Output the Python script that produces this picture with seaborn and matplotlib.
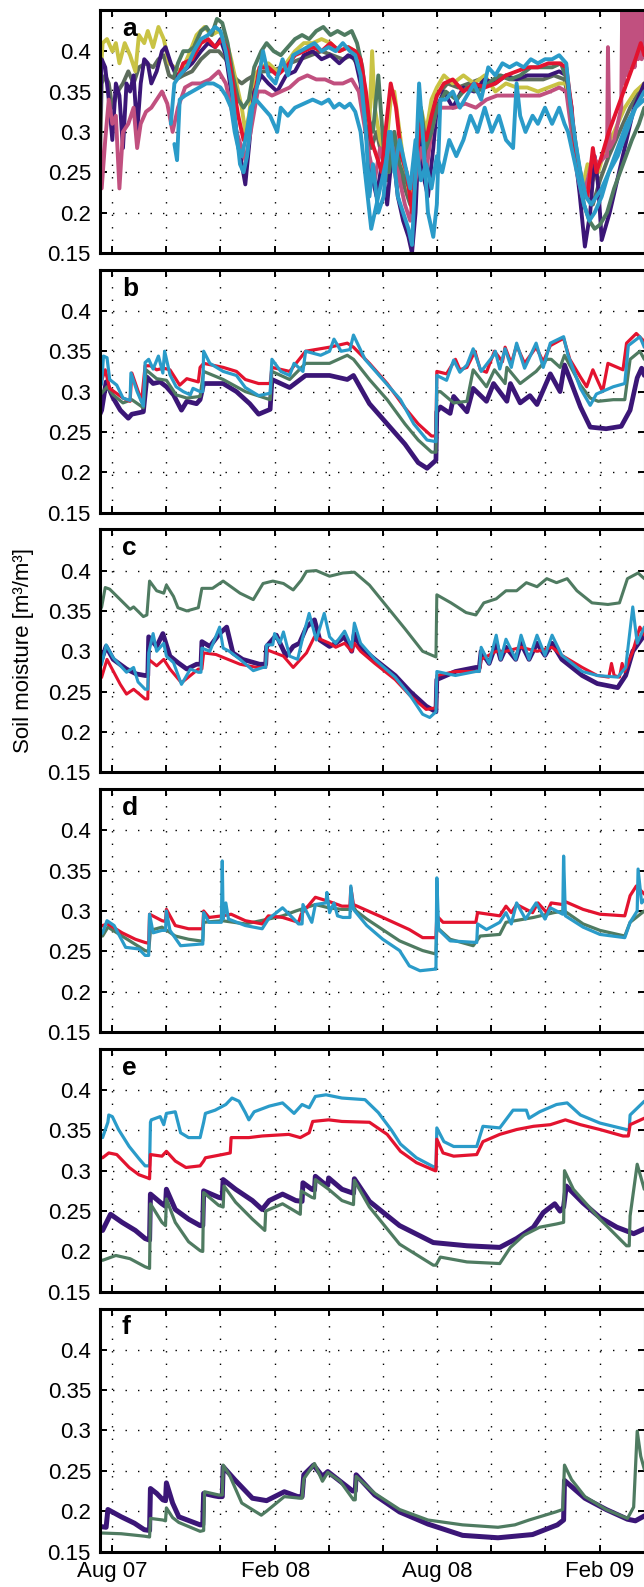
import numpy as np
import pandas as pd
import matplotlib
matplotlib.use("Agg")
import matplotlib.pyplot as plt
import matplotlib.dates as mdates
from matplotlib.ticker import FuncFormatter, FixedLocator
import seaborn as sns

# ---------------- data (day offsets from 1 Aug 2007, soil moisture m3/m3) ----------------
# panel a
a_grey_d = [-14,-12,-8,-4,0,6,12,18,24,30,38,46,52,58,64,72,80,90,100,110,120,128,134,140,146,152,160,170,180,190,200,212,224,236,248,260,270,278,286,292,298,304,310,316,322,330,336,342,348,354,360,366,378,390,402,414,426,438,450,462,474,486,498,510,518,526,534,542,550,560,572,584,594,600]
a_grey_v = [0.26,0.36,0.37,0.36,0.33,0.35,0.36,0.375,0.36,0.38,0.385,0.38,0.39,0.395,0.37,0.365,0.37,0.375,0.39,0.40,0.40,0.39,0.375,0.365,0.36,0.365,0.37,0.375,0.375,0.38,0.385,0.39,0.395,0.40,0.395,0.39,0.395,0.38,0.33,0.28,0.30,0.27,0.24,0.29,0.26,0.23,0.21,0.23,0.31,0.27,0.32,0.345,0.36,0.355,0.36,0.365,0.36,0.37,0.365,0.365,0.365,0.365,0.37,0.365,0.32,0.26,0.22,0.21,0.24,0.27,0.30,0.33,0.35,0.36]
a_yellow_d = [-14,-11,-6,0,4,8,14,20,26,30,36,40,46,52,58,64,70,78,86,95,104,112,120,128,134,140,146,150,154,160,168,176,186,196,206,216,226,236,246,256,266,274,280,286,290,293,296,302,308,314,318,324,330,336,342,348,354,360,366,374,384,396,408,420,432,444,456,468,480,492,504,512,518,524,530,536,542,548,556,566,578,590,600]
a_yellow_v = [0.35,0.41,0.415,0.40,0.41,0.385,0.41,0.395,0.375,0.42,0.41,0.425,0.405,0.43,0.415,0.385,0.38,0.375,0.395,0.42,0.43,0.42,0.425,0.415,0.39,0.36,0.33,0.30,0.32,0.37,0.38,0.385,0.375,0.385,0.40,0.41,0.41,0.415,0.41,0.40,0.405,0.40,0.38,0.33,0.31,0.40,0.33,0.29,0.27,0.34,0.35,0.30,0.25,0.22,0.25,0.33,0.30,0.34,0.355,0.37,0.36,0.37,0.36,0.37,0.35,0.36,0.355,0.355,0.35,0.355,0.36,0.36,0.32,0.26,0.23,0.26,0.24,0.25,0.28,0.30,0.33,0.35,0.36]
a_purple_d = [-14,-12,-8,-4,0,4,8,12,16,20,24,28,32,36,40,44,50,56,60,66,72,80,90,100,108,116,122,128,134,140,146,150,154,160,168,176,186,196,206,216,226,236,246,256,266,274,280,286,292,298,304,310,316,322,328,334,338,342,346,350,356,362,366,374,384,396,408,420,432,444,456,468,480,492,504,512,518,520,527,533,539,544,548,552,561,573,588,600]
a_purple_v = [0.31,0.39,0.38,0.34,0.29,0.36,0.345,0.28,0.36,0.35,0.37,0.30,0.36,0.39,0.385,0.36,0.375,0.40,0.405,0.385,0.37,0.375,0.385,0.40,0.41,0.405,0.415,0.395,0.35,0.30,0.26,0.235,0.28,0.35,0.37,0.36,0.35,0.37,0.375,0.395,0.40,0.39,0.395,0.385,0.395,0.39,0.36,0.30,0.25,0.22,0.26,0.21,0.28,0.22,0.19,0.17,0.15,0.20,0.30,0.25,0.22,0.28,0.33,0.35,0.33,0.355,0.35,0.365,0.36,0.37,0.365,0.37,0.37,0.37,0.375,0.37,0.33,0.29,0.224,0.158,0.20,0.27,0.233,0.166,0.20,0.257,0.328,0.36]
a_pink_d = [-14,-12,-8,-4,0,4,8,12,18,24,28,32,38,44,50,56,62,68,74,82,90,100,110,120,128,134,140,146,150,156,164,172,180,190,200,210,220,230,240,250,260,270,278,284,290,296,302,310,318,324,330,336,342,348,354,360,366,376,386,398,410,422,434,446,458,470,482,494,504,512,518,524,530,536,542,548,556,558,559,561,566,574,575,577,579,581,583,585,587,589,591,593,595,597,599,600]
a_pink_v = [0.30,0.23,0.29,0.34,0.31,0.32,0.23,0.30,0.31,0.33,0.28,0.31,0.325,0.33,0.34,0.35,0.335,0.30,0.33,0.355,0.36,0.36,0.365,0.375,0.36,0.33,0.30,0.28,0.265,0.30,0.35,0.35,0.345,0.35,0.355,0.365,0.37,0.365,0.365,0.36,0.36,0.365,0.35,0.31,0.27,0.24,0.28,0.25,0.30,0.24,0.21,0.19,0.24,0.28,0.25,0.30,0.33,0.33,0.33,0.335,0.33,0.34,0.345,0.345,0.345,0.345,0.345,0.35,0.355,0.35,0.30,0.25,0.22,0.24,0.27,0.26,0.27,0.27,0.405,0.28,0.29,0.33,0.45,0.36,0.45,0.37,0.45,0.38,0.45,0.38,0.45,0.39,0.45,0.39,0.45,0.42]
a_green_d = [70,74,80,86,92,100,106,112,118,124,130,136,142,148,154,160,168,174,182,190,198,206,214,222,230,238,246,254,262,270,276,282,288,294,300,306,312,318,324,330,336,342,348,354,360,366,376,388,400,412,424,436,448,460,472,484,496,506,514,520,526,532,538,544,550,558,566,576,586,594,600]
a_green_v = [0.37,0.385,0.40,0.40,0.405,0.425,0.43,0.42,0.44,0.435,0.41,0.37,0.34,0.33,0.34,0.38,0.40,0.41,0.40,0.395,0.405,0.415,0.42,0.415,0.425,0.43,0.42,0.425,0.42,0.425,0.41,0.38,0.32,0.30,0.37,0.28,0.25,0.30,0.26,0.24,0.23,0.26,0.33,0.28,0.30,0.33,0.35,0.34,0.355,0.35,0.36,0.37,0.365,0.37,0.38,0.38,0.38,0.385,0.36,0.30,0.25,0.21,0.19,0.18,0.185,0.20,0.23,0.26,0.29,0.31,0.33]
a_red_d = [75,80,90,100,108,116,124,130,136,142,148,152,158,166,176,186,196,206,216,226,236,246,256,266,274,280,286,292,298,304,308,314,320,326,332,338,342,348,354,360,366,374,384,396,408,420,432,444,456,468,480,492,504,512,518,524,530,536,542,546,552,560,570,580,590,596,600]
a_red_v = [0.37,0.385,0.39,0.41,0.415,0.405,0.415,0.40,0.36,0.32,0.29,0.30,0.33,0.38,0.38,0.37,0.38,0.395,0.40,0.405,0.40,0.41,0.40,0.405,0.40,0.39,0.35,0.29,0.27,0.25,0.30,0.36,0.33,0.27,0.25,0.20,0.26,0.31,0.29,0.32,0.345,0.36,0.365,0.35,0.36,0.355,0.36,0.37,0.375,0.38,0.38,0.385,0.385,0.38,0.33,0.26,0.23,0.22,0.28,0.25,0.27,0.30,0.33,0.36,0.39,0.41,0.395]
a_blue1_d = [66,70,76,84,92,100,108,116,122,128,134,140,144,148,152,158,164,170,176,184,192,198,204,212,220,228,236,244,252,260,268,274,280,286,290,294,300,306,312,316,322,328,334,338,342,346,350,356,362,366,370,376,384,392,400,408,416,424,432,440,448,456,464,472,480,488,496,504,512,516,522,528,534,540,546,552,560,570,580,590,600]
a_blue1_v = [0.31,0.36,0.37,0.38,0.40,0.415,0.42,0.43,0.425,0.40,0.36,0.30,0.26,0.25,0.27,0.33,0.36,0.40,0.37,0.36,0.39,0.37,0.395,0.40,0.405,0.41,0.40,0.405,0.40,0.41,0.40,0.395,0.37,0.30,0.22,0.26,0.20,0.22,0.30,0.28,0.22,0.20,0.18,0.16,0.25,0.36,0.30,0.20,0.17,0.21,0.34,0.34,0.35,0.33,0.345,0.36,0.34,0.38,0.37,0.385,0.38,0.385,0.38,0.39,0.385,0.39,0.39,0.395,0.385,0.34,0.29,0.25,0.22,0.21,0.22,0.23,0.25,0.27,0.30,0.33,0.35]
a_blue2_d = [70,73,76,82,90,98,106,114,122,128,134,138,142,146,150,156,162,170,178,186,190,198,206,216,226,236,244,250,256,262,268,274,280,286,292,296,302,308,314,318,324,330,336,342,348,354,360,366,372,380,388,396,404,412,420,428,436,444,452,456,460,466,474,480,488,496,504,510,514,520,526,532,538,544,552,560,570,580,590,600]
a_blue2_v = [0.285,0.265,0.34,0.345,0.35,0.355,0.36,0.36,0.355,0.345,0.33,0.30,0.28,0.27,0.29,0.33,0.34,0.33,0.32,0.30,0.33,0.32,0.33,0.335,0.34,0.335,0.34,0.33,0.335,0.33,0.335,0.325,0.30,0.24,0.18,0.20,0.23,0.26,0.30,0.25,0.29,0.26,0.23,0.29,0.24,0.26,0.23,0.27,0.25,0.29,0.27,0.29,0.32,0.30,0.33,0.30,0.32,0.29,0.28,0.36,0.32,0.30,0.32,0.31,0.33,0.31,0.33,0.31,0.30,0.27,0.24,0.21,0.19,0.20,0.22,0.25,0.28,0.31,0.33,0.34]

# panel b
b_purple_d = [-14,-12,-7,1,9,18,22,35,39,46,54,61,69,78,84,95,99,103,125,140,155,165,178,180,200,218,245,265,272,290,310,330,345,355,365,366,370,381,385,400,407,422,430,445,449,460,471,479,494,505,510,528,539,557,574,584,592,597,600]
b_purple_v = [0.272,0.277,0.312,0.292,0.277,0.267,0.272,0.275,0.318,0.31,0.312,0.306,0.296,0.277,0.288,0.285,0.29,0.31,0.31,0.30,0.285,0.272,0.278,0.315,0.305,0.32,0.32,0.315,0.32,0.285,0.26,0.235,0.212,0.205,0.215,0.275,0.281,0.273,0.294,0.275,0.304,0.288,0.31,0.288,0.31,0.286,0.295,0.284,0.322,0.30,0.333,0.281,0.256,0.254,0.257,0.277,0.317,0.329,0.32]
b_green_d = [-14,-12,-6,1,12,22,35,38,50,61,72,84,99,103,125,150,178,180,200,218,245,265,272,290,310,330,345,360,365,366,370,385,400,407,422,431,443,445,460,478,490,495,505,510,528,539,548,565,578,584,595,600]
b_green_v = [0.296,0.298,0.306,0.296,0.286,0.29,0.28,0.327,0.316,0.314,0.296,0.292,0.294,0.325,0.315,0.30,0.29,0.325,0.315,0.335,0.335,0.345,0.34,0.315,0.29,0.26,0.24,0.225,0.225,0.30,0.30,0.286,0.288,0.327,0.306,0.327,0.31,0.33,0.31,0.325,0.34,0.34,0.33,0.345,0.308,0.292,0.288,0.29,0.29,0.34,0.35,0.34]
b_red_d = [-14,-12,-8,-3,12,20,22,33,37,43,50,58,65,76,84,97,99,103,125,140,150,165,178,180,200,218,245,265,272,290,310,330,345,360,365,366,377,387,392,400,409,415,422,431,440,443,450,456,465,478,486,494,509,516,528,535,542,548,553,559,576,580,591,600]
b_red_v = [0.31,0.314,0.327,0.304,0.292,0.288,0.323,0.288,0.332,0.332,0.327,0.329,0.327,0.308,0.316,0.312,0.33,0.335,0.33,0.325,0.315,0.31,0.31,0.33,0.325,0.35,0.355,0.36,0.355,0.335,0.31,0.28,0.26,0.245,0.245,0.325,0.322,0.34,0.327,0.33,0.35,0.327,0.324,0.35,0.337,0.355,0.335,0.357,0.335,0.355,0.337,0.357,0.366,0.34,0.318,0.306,0.327,0.312,0.30,0.335,0.327,0.36,0.372,0.362]
b_blue_d = [-14,-12,-10,-6,-3,5,12,20,21,28,35,37,41,46,52,57,59,65,72,80,88,91,99,102,103,110,125,140,150,165,178,180,190,200,205,215,218,235,245,250,258,268,272,285,305,325,340,355,365,366,377,385,392,400,407,416,430,432,437,443,450,456,465,478,486,494,509,514,528,539,546,565,578,582,595,600]
b_blue_v = [0.305,0.31,0.344,0.342,0.315,0.308,0.292,0.289,0.323,0.30,0.282,0.336,0.34,0.328,0.344,0.323,0.35,0.321,0.306,0.30,0.296,0.304,0.30,0.30,0.35,0.335,0.325,0.32,0.305,0.295,0.298,0.34,0.325,0.32,0.335,0.325,0.35,0.345,0.35,0.365,0.35,0.352,0.37,0.34,0.315,0.29,0.26,0.24,0.238,0.32,0.314,0.339,0.324,0.333,0.353,0.325,0.345,0.35,0.328,0.353,0.33,0.36,0.329,0.36,0.33,0.36,0.368,0.345,0.304,0.283,0.297,0.306,0.31,0.357,0.368,0.355]

# panel c
c_green_d = [-14,-12,-8,-3,9,20,24,35,39,42,50,58,61,69,74,84,97,101,113,121,125,144,159,170,181,193,204,213,219,230,245,260,273,290,310,330,350,365,366,382,399,410,419,433,444,456,467,479,490,501,513,524,541,559,572,581,593,600]
c_green_v = [0.35,0.355,0.379,0.377,0.364,0.352,0.355,0.343,0.345,0.387,0.375,0.372,0.382,0.368,0.354,0.35,0.354,0.378,0.378,0.384,0.387,0.372,0.364,0.384,0.387,0.384,0.376,0.388,0.399,0.40,0.393,0.397,0.398,0.382,0.355,0.328,0.30,0.293,0.37,0.36,0.348,0.345,0.36,0.365,0.375,0.375,0.385,0.38,0.39,0.385,0.39,0.375,0.36,0.358,0.36,0.39,0.397,0.39]
c_purple_d = [-14,-12,-7,1,16,27,37,40,41,50,57,65,74,84,95,100,101,110,121,129,136,147,166,173,174,185,196,204,211,219,228,234,245,252,262,270,273,280,296,319,336,354,365,366,387,410,414,416,425,433,438,444,455,461,470,479,488,496,507,530,547,570,579,587,600]
c_purple_v = [0.29,0.29,0.306,0.29,0.278,0.272,0.27,0.27,0.318,0.306,0.322,0.294,0.286,0.278,0.284,0.284,0.312,0.306,0.322,0.33,0.298,0.29,0.284,0.284,0.306,0.32,0.294,0.306,0.31,0.33,0.339,0.314,0.306,0.31,0.318,0.30,0.322,0.305,0.29,0.27,0.25,0.232,0.225,0.265,0.275,0.28,0.28,0.30,0.285,0.31,0.29,0.305,0.29,0.31,0.29,0.31,0.295,0.31,0.29,0.27,0.26,0.255,0.27,0.30,0.32]
c_red_d = [-14,-12,-6,9,16,24,37,40,41,50,58,65,78,97,101,103,117,144,163,173,174,193,204,219,228,245,252,262,270,273,280,296,319,336,354,365,366,387,410,414,416,433,444,461,479,496,507,530,547,560,563,566,572,575,578,587,595,600]
c_red_v = [0.265,0.268,0.29,0.259,0.247,0.253,0.241,0.241,0.29,0.282,0.29,0.278,0.261,0.278,0.278,0.298,0.296,0.284,0.28,0.28,0.302,0.294,0.28,0.298,0.318,0.31,0.305,0.31,0.30,0.31,0.30,0.285,0.265,0.245,0.228,0.23,0.27,0.275,0.275,0.275,0.29,0.30,0.30,0.305,0.30,0.305,0.295,0.28,0.27,0.268,0.285,0.27,0.268,0.285,0.275,0.30,0.33,0.32]
c_blue_d = [-14,-12,-7,1,16,24,29,37,40,41,46,50,58,61,69,78,88,97,100,101,110,121,125,132,144,159,170,173,174,181,183,189,193,200,209,215,222,230,239,245,252,262,270,273,280,296,319,336,350,358,365,366,387,410,414,416,425,433,438,444,455,461,470,479,488,496,507,530,547,570,579,587,592,600]
c_blue_v = [0.28,0.284,0.308,0.292,0.274,0.28,0.262,0.253,0.253,0.298,0.322,0.30,0.31,0.294,0.286,0.259,0.278,0.274,0.274,0.304,0.30,0.33,0.304,0.30,0.29,0.276,0.28,0.28,0.308,0.308,0.322,0.31,0.324,0.294,0.29,0.318,0.347,0.314,0.347,0.318,0.31,0.325,0.305,0.335,0.31,0.29,0.268,0.245,0.222,0.218,0.225,0.275,0.27,0.275,0.275,0.305,0.285,0.32,0.29,0.315,0.29,0.32,0.29,0.32,0.295,0.32,0.295,0.275,0.27,0.268,0.28,0.355,0.31,0.33]

# panel d
d_green_d = [-14,-11,-5,11,37,41,43,56,71,86,99,102,103,124,150,176,192,207,229,244,259,268,269,275,287,324,350,364,365,366,381,407,415,437,444,475,498,510,531,550,578,584,600]
d_green_v = [0.272,0.269,0.28,0.269,0.251,0.25,0.276,0.28,0.269,0.265,0.263,0.263,0.286,0.288,0.284,0.29,0.294,0.30,0.308,0.304,0.302,0.302,0.31,0.30,0.29,0.263,0.251,0.247,0.247,0.28,0.265,0.257,0.269,0.271,0.286,0.292,0.298,0.30,0.284,0.276,0.269,0.286,0.30]
d_red_d = [-14,-11,-5,11,26,37,41,42,56,60,61,71,86,99,102,103,109,124,134,150,169,176,192,210,213,229,244,259,268,269,272,305,335,350,364,365,366,373,410,412,437,444,450,456,474,480,490,495,508,510,531,550,578,584,591,600]
d_red_v = [0.28,0.282,0.284,0.273,0.265,0.261,0.26,0.296,0.288,0.287,0.302,0.282,0.278,0.278,0.278,0.30,0.292,0.294,0.296,0.288,0.284,0.294,0.292,0.286,0.296,0.317,0.312,0.306,0.306,0.329,0.308,0.292,0.277,0.267,0.267,0.267,0.294,0.286,0.286,0.298,0.294,0.306,0.298,0.308,0.298,0.31,0.298,0.31,0.308,0.312,0.302,0.296,0.294,0.319,0.331,0.321]
d_blue_d = [-14,-11,-6,2,15,30,37,41,42,46,56,60,61,65,77,99,102,103,109,123,124,125,128,131,150,169,176,192,203,210,214,215,225,229,241,242,245,250,254,260,268,269,272,287,305,324,335,347,364,365,366,368,381,411,412,422,437,444,450,456,466,478,488,494,508,509,511,531,550,578,584,592,593,597,600]
d_blue_v = [0.27,0.273,0.288,0.282,0.255,0.253,0.245,0.245,0.296,0.273,0.276,0.276,0.30,0.276,0.257,0.259,0.259,0.298,0.286,0.286,0.362,0.29,0.31,0.29,0.282,0.278,0.29,0.304,0.292,0.284,0.284,0.308,0.286,0.308,0.31,0.323,0.298,0.31,0.294,0.292,0.292,0.331,0.302,0.282,0.265,0.251,0.232,0.226,0.228,0.228,0.341,0.277,0.263,0.261,0.284,0.277,0.286,0.298,0.284,0.31,0.29,0.31,0.29,0.304,0.296,0.368,0.294,0.28,0.271,0.267,0.286,0.30,0.352,0.31,0.314]

# panel e
e_blue_d = [-14,-11,-5,-4,0,7,19,30,37,42,43,44,54,58,61,71,77,86,99,103,105,116,128,135,143,150,154,160,177,192,205,214,222,229,241,259,285,300,315,325,343,362,365,366,374,385,411,418,437,452,467,470,482,501,513,528,550,580,583,584,600]
e_blue_v = [0.345,0.341,0.36,0.369,0.367,0.351,0.33,0.315,0.306,0.306,0.36,0.363,0.367,0.357,0.371,0.373,0.347,0.341,0.341,0.36,0.371,0.375,0.382,0.39,0.386,0.372,0.363,0.373,0.38,0.384,0.371,0.382,0.378,0.392,0.394,0.39,0.388,0.372,0.35,0.333,0.316,0.305,0.302,0.353,0.336,0.33,0.33,0.355,0.353,0.375,0.375,0.365,0.373,0.382,0.384,0.369,0.359,0.351,0.351,0.369,0.386]
e_red_d = [-14,-11,-4,5,19,30,40,42,43,56,61,71,83,99,103,105,124,133,134,154,169,199,212,222,226,244,259,290,310,325,343,364,365,366,373,385,411,418,437,456,475,494,511,528,550,576,582,584,600]
e_red_v = [0.318,0.316,0.322,0.32,0.304,0.295,0.291,0.29,0.32,0.318,0.324,0.312,0.304,0.306,0.312,0.316,0.32,0.322,0.341,0.341,0.343,0.345,0.341,0.347,0.361,0.363,0.361,0.36,0.345,0.324,0.31,0.30,0.30,0.339,0.322,0.318,0.32,0.336,0.345,0.351,0.355,0.357,0.363,0.357,0.351,0.343,0.343,0.357,0.365]
e_purple_d = [-14,-11,-2,11,26,37,42,43,56,60,61,71,86,99,102,103,120,124,125,139,158,169,177,192,207,214,215,225,228,229,240,243,244,259,272,273,290,324,362,400,437,456,475,486,499,505,509,512,531,550,569,588,600]
e_purple_v = [0.23,0.226,0.246,0.236,0.226,0.216,0.214,0.271,0.259,0.256,0.277,0.252,0.24,0.232,0.232,0.275,0.267,0.266,0.289,0.277,0.263,0.252,0.263,0.271,0.263,0.262,0.285,0.277,0.276,0.293,0.283,0.282,0.291,0.277,0.272,0.29,0.262,0.232,0.211,0.207,0.205,0.216,0.23,0.248,0.259,0.25,0.255,0.281,0.26,0.242,0.23,0.222,0.228]
e_green_d = [-14,-11,4,20,37,42,43,56,60,61,71,86,99,102,103,120,125,126,139,158,172,173,177,192,212,213,225,228,229,244,259,272,273,290,324,362,365,370,400,437,449,464,482,501,509,510,520,550,580,583,584,592,600]
e_green_v = [0.19,0.189,0.195,0.191,0.181,0.179,0.259,0.236,0.232,0.265,0.236,0.212,0.201,0.20,0.273,0.257,0.255,0.281,0.261,0.24,0.226,0.25,0.252,0.259,0.246,0.275,0.267,0.266,0.289,0.277,0.263,0.258,0.288,0.255,0.209,0.183,0.183,0.193,0.187,0.185,0.205,0.22,0.23,0.234,0.236,0.30,0.277,0.24,0.207,0.207,0.244,0.308,0.277]

# panel f
f_purple_d = [-14,-7,-5,10,25,36,42,43,50,57,60,61,68,75,99,102,103,115,120,124,125,138,158,174,194,209,214,216,227,237,243,257,271,274,275,296,324,356,395,435,474,502,509,510,533,557,581,590,600]
f_purple_v = [0.181,0.18,0.202,0.193,0.185,0.177,0.176,0.228,0.222,0.214,0.213,0.235,0.21,0.193,0.183,0.183,0.222,0.219,0.218,0.218,0.255,0.239,0.216,0.213,0.224,0.218,0.218,0.245,0.257,0.243,0.249,0.237,0.225,0.225,0.245,0.22,0.199,0.184,0.17,0.167,0.171,0.183,0.189,0.238,0.216,0.202,0.19,0.188,0.194]
f_green_d = [-14,10,36,42,43,57,60,61,68,75,99,103,104,120,124,125,132,146,168,174,194,212,214,216,228,237,243,257,272,274,275,296,324,356,395,435,454,470,500,508,510,518,533,557,581,588,592,596,600]
f_green_v = [0.173,0.172,0.169,0.168,0.191,0.189,0.188,0.204,0.192,0.186,0.175,0.176,0.224,0.22,0.22,0.257,0.245,0.21,0.195,0.20,0.218,0.216,0.216,0.24,0.259,0.237,0.248,0.237,0.214,0.214,0.243,0.222,0.202,0.189,0.183,0.18,0.183,0.189,0.199,0.202,0.257,0.239,0.218,0.202,0.191,0.205,0.299,0.268,0.252]

panel_letters = ["a", "b", "c", "d", "e", "f"]
y_ticks = [0.15, 0.2, 0.25, 0.3, 0.35, 0.4]
y_label = "Soil moisture [m³/m³]"

# ---------------- style ----------------
PURPLE = "#3b1677"
RED = "#e3132f"
BLUE = "#2a9bc9"
GREEN = "#4f7b61"
YELLOW = "#c9c344"
PINK = "#c1507f"
GREY = "#5d6c5c"

sns.set_style("ticks")
plt.rcParams["font.family"] = ["Liberation Sans", "DejaVu Sans"]
for k in ["text.color", "axes.labelcolor", "xtick.color", "ytick.color", "axes.edgecolor"]:
    plt.rcParams[k] = "black"

BASE = pd.Timestamp("2007-08-01")


def to_dates(d):
    return BASE + pd.to_timedelta(np.asarray(d, dtype=float), unit="D")


panels = [
    [(a_grey_d, a_grey_v, GREY, 2.8), (a_yellow_d, a_yellow_v, YELLOW, 2.8),
     (a_purple_d, a_purple_v, PURPLE, 2.8), (a_pink_d, a_pink_v, PINK, 2.8),
     (a_green_d, a_green_v, GREEN, 2.8), (a_red_d, a_red_v, RED, 2.8),
     (a_blue2_d, a_blue2_v, BLUE, 2.8), (a_blue1_d, a_blue1_v, BLUE, 2.8)],
    [(b_purple_d, b_purple_v, PURPLE, 3.4), (b_green_d, b_green_v, GREEN, 2.3),
     (b_red_d, b_red_v, RED, 2.3), (b_blue_d, b_blue_v, BLUE, 2.3)],
    [(c_green_d, c_green_v, GREEN, 2.2), (c_purple_d, c_purple_v, PURPLE, 3.4),
     (c_red_d, c_red_v, RED, 2.2), (c_blue_d, c_blue_v, BLUE, 2.2)],
    [(d_green_d, d_green_v, GREEN, 2.3), (d_red_d, d_red_v, RED, 2.3),
     (d_blue_d, d_blue_v, BLUE, 2.3)],
    [(e_blue_d, e_blue_v, BLUE, 2.3), (e_red_d, e_red_v, RED, 2.3),
     (e_purple_d, e_purple_v, PURPLE, 3.6), (e_green_d, e_green_v, GREEN, 2.3)],
    [(f_purple_d, f_purple_v, PURPLE, 3.6), (f_green_d, f_green_v, GREEN, 2.3)],
]

W, H = 644, 1587
fig = plt.figure(figsize=(W / 100, H / 100), dpi=100)

left_px, right_px = 100, 645
panel_h = 243
period = 259.7
x_min = BASE + pd.Timedelta(days=-13.9)
x_max = BASE + pd.Timedelta(days=600.8)


def xfmt(x, pos):
    dt = mdates.num2date(x)
    if dt.month in (2, 8):
        return dt.strftime("%b %y")
    return ""


for i, series in enumerate(panels):
    top = 10 + period * i
    bottom = top + panel_h
    ax = fig.add_axes([left_px / W, 1 - bottom / H, (right_px - left_px) / W, panel_h / H])
    for d, v, col, lw in series:
        sns.lineplot(x=to_dates(d), y=np.asarray(v, dtype=float), ax=ax, color=col,
                     linewidth=lw, estimator=None, sort=False, legend=False)
    ax.set_xlim(x_min, x_max)
    ax.set_ylim(0.15, 0.451)
    ax.yaxis.set_major_locator(FixedLocator(y_ticks))
    ax.yaxis.set_major_formatter(FuncFormatter(lambda y, p: "%g" % round(y, 3)))
    ax.xaxis.set_major_locator(mdates.MonthLocator(bymonth=[2, 4, 6, 8, 10, 12]))
    ax.xaxis.set_major_formatter(FuncFormatter(xfmt))
    ax.set_axisbelow(True)
    ax.grid(True, which="major", linestyle=(0, (1, 8)), color="black", linewidth=1.0)
    ax.tick_params(direction="in", length=5, width=1.4, top=True, right=True,
                   labelsize=16, pad=6.5, colors="black")
    if i < len(panels) - 1:
        ax.tick_params(labelbottom=False)
    for sp in ax.spines.values():
        sp.set_linewidth(2.2)
        sp.set_color("black")
        sp.set_visible(True)
    ax.set_xlabel("")
    ax.set_ylabel("")
    ax.text(22 / (right_px - left_px), 1 - 7 / panel_h, panel_letters[i], transform=ax.transAxes,
            fontsize=19, fontweight="bold", va="top", ha="left", color="black")
    if i == 2:
        ax.set_ylabel(y_label, fontsize=16, color="black")
        ax.yaxis.set_label_coords(-0.121, 0.5)

fig.savefig("out.png", dpi=100)
